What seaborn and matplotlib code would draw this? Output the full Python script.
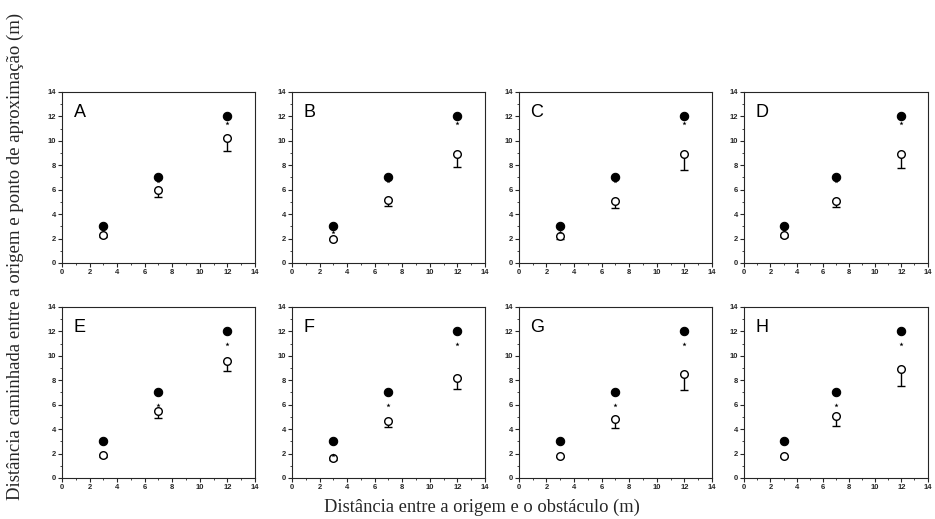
import numpy as np
import pandas as pd
import matplotlib
matplotlib.use("Agg")
import matplotlib.pyplot as plt
from matplotlib.ticker import MultipleLocator
import seaborn as sns

# obstacle distance (x) and the three conditions
panels = ["A", "B", "C", "D", "E", "F", "G", "H"]
obstacle = [3, 7, 12]
# filled circles: origin-to-obstacle distance
filled_y = [3, 7, 12]
# open circles: walked distance to approach point (means)
open_y = {
    "A": [2.3, 5.95, 10.2],
    "B": [2.0, 5.15, 8.9],
    "C": [2.2, 5.1, 8.95],
    "D": [2.3, 5.1, 8.95],
    "E": [1.85, 5.5, 9.6],
    "F": [1.6, 4.7, 8.2],
    "G": [1.8, 4.8, 8.5],
    "H": [1.8, 5.1, 8.95],
}
# lower end of the error bars
err_low = {
    "A": [2.1, 5.4, 9.15],
    "B": [1.9, 4.65, 7.85],
    "C": [2.0, 4.5, 7.65],
    "D": [2.1, 4.6, 7.8],
    "E": [1.75, 4.95, 8.8],
    "F": [1.5, 4.15, 7.3],
    "G": [1.7, 4.1, 7.2],
    "H": [1.7, 4.25, 7.55],
}
# significance asterisks (nan = none)
star_y = {
    "A": [np.nan, 6.7, 11.5],
    "B": [2.5, 6.7, 11.5],
    "C": [2.5, 6.7, 11.5],
    "D": [np.nan, 6.7, 11.5],
    "E": [np.nan, 6.0, 11.0],
    "F": [1.9, 6.0, 11.0],
    "G": [np.nan, 6.0, 11.0],
    "H": [np.nan, 6.0, 11.0],
}

sns.set_style("ticks")
plt.rcParams["font.family"] = ["Liberation Sans", "DejaVu Sans"]

fig = plt.figure(figsize=(9.35, 5.19), dpi=100)

lefts = [0.0663, 0.3123, 0.555, 0.796]
bottoms = [0.4933, 0.079]
w, h = 0.2064, 0.3295

for i, p in enumerate(panels):
    row, col = divmod(i, 4)
    width = w if col < 3 else 0.196
    ax = fig.add_axes([lefts[col], bottoms[row], width, h])

    df = pd.DataFrame({
        "x": obstacle,
        "filled": filled_y,
        "open": open_y[p],
        "low": err_low[p],
        "star": star_y[p],
    })

    yerr = np.vstack([df["open"] - df["low"], np.zeros(len(df))])
    ax.errorbar(df["x"], df["open"], yerr=yerr, fmt="none", ecolor="black",
                elinewidth=1.0, capsize=3, capthick=1.0, zorder=2)
    sns.scatterplot(data=df, x="x", y="filled", ax=ax, color="black",
                    s=36, edgecolor="black", linewidth=0.8, zorder=3)
    sns.scatterplot(data=df, x="x", y="open", ax=ax, color="white",
                    s=30, edgecolor="black", linewidth=1.0, zorder=3)
    sns.scatterplot(data=df.dropna(subset=["star"]), x="x", y="star", ax=ax,
                    marker="*", color="black", s=10, linewidth=0, zorder=3)

    ax.set_xlim(0, 14)
    ax.set_ylim(0, 14)
    ax.xaxis.set_major_locator(MultipleLocator(2))
    ax.yaxis.set_major_locator(MultipleLocator(2))
    ax.xaxis.set_minor_locator(MultipleLocator(1))
    ax.yaxis.set_minor_locator(MultipleLocator(1))
    ax.tick_params(which="major", length=3, width=0.8, labelsize=5.5, pad=1.5)
    ax.tick_params(which="minor", length=1.5, width=0.6)
    for lbl in ax.get_xticklabels() + ax.get_yticklabels():
        lbl.set_fontweight("bold")
    ax.set_xlabel("")
    ax.set_ylabel("")
    for s in ax.spines.values():
        s.set_linewidth(0.8)
    ax.text(0.06, 0.93, p, transform=ax.transAxes, fontsize=13,
            ha="left", va="top", color="black")

fig.text(0.515, 0.022, "Distância entre a origem e o obstáculo (m)",
         ha="center", va="center", fontsize=13.3, family="Liberation Serif")
fig.text(0.016, 0.505, "Distância caminhada entre a origem e ponto de aproximação (m)",
         ha="center", va="center", rotation=90, fontsize=13.5,
         family="Liberation Serif")

fig.savefig("out.png", dpi=100)
